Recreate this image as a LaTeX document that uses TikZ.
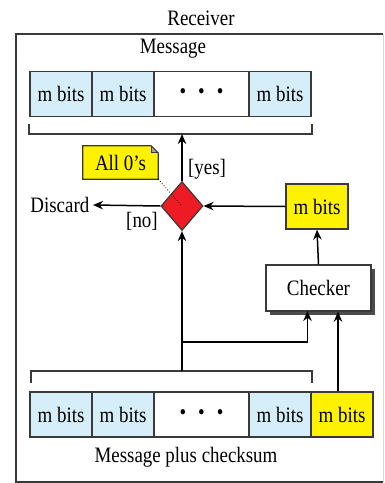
\documentclass[tikz,border=0pt]{standalone}
\usepackage{fontspec}
\setmainfont[FakeStretch=0.86]{Liberation Serif}
\usetikzlibrary{shapes.geometric,arrows.meta,shadows}
\definecolor{lblue}{HTML}{D5EEF9}
\definecolor{yel}{HTML}{FFF200}
\definecolor{dred}{HTML}{ED1C24}
\definecolor{bord}{HTML}{3A3A3A}
\begin{document}
\begin{tikzpicture}[x=1pt,y=-1pt,
  every node/.style={font=\fontsize{22}{25}\selectfont},
  cell/.style={draw=bord,line width=1.4pt,minimum height=45pt,inner sep=0pt},
  mcell/.style={cell,fill=lblue,minimum width=62pt},
  dcell/.style={cell,fill=white,minimum width=95pt},
  ycell/.style={cell,fill=yel,minimum width=62pt},
  arr/.style={line width=1.5pt,-{Stealth[length=10pt,width=8.5pt]}},
  brk/.style={line width=1.4pt,draw=bord},
  lbl/.style={inner sep=0pt}
]
\useasboundingbox (0,0) rectangle (385,483);
% frame
\draw[line width=1.4pt,draw=bord] (383,34) -- (16,34) -- (16,482) -- (383,482);
\draw[line width=0.8pt,draw=black!15] (383,34) -- (383,482);
\node[lbl] (recv) at (201,18) {Receiver};
\node[lbl] (msg) at (173,49) {Message};
% top row
\node[mcell] (t1) at (61,94) {m bits};
\node[mcell] (t2) at (123,94) {m bits};
\node[dcell] (t3) at (201.5,94) {\textbullet\hspace{12pt}\textbullet\hspace{12pt}\textbullet};
\node[mcell] (t4) at (280,94) {m bits};
% top bracket
\coordinate (tb) at (182,134);
\draw[brk] (29,124) -- (29,134) -- (312,134) -- (312,124);
% diamond
\node[diamond,draw=bord,fill=dred,line width=1.2pt,inner sep=0pt,minimum width=42pt,minimum height=49pt] (dia) at (182,206) {};
\draw[arr] (dia.north) -- (tb);
\node[lbl] (yes) at (207,169) {[yes]};
\node[lbl] (no) at (142,221) {[no]};
% discard
\node[inner sep=3.5pt,anchor=east] (disc) at (93,205) {Discard};
\draw[arr] (dia.west) -- (disc.east);
% note
\node[minimum width=75pt,minimum height=33pt,inner sep=0pt] (note) at (120.5,162.5) {};
\fill[yel] (note.north west) -- ([xshift=-7pt]note.north east) -- ([yshift=-7pt]note.north east) -- (note.south east) -- (note.south west) -- cycle;
\fill[black!35] ([xshift=-7pt]note.north east) -- ([xshift=-7pt,yshift=-7pt]note.north east) -- ([yshift=-7pt]note.north east) -- cycle;
\draw[line width=1.2pt,draw=bord,line join=miter] (note.north west) -- ([xshift=-7pt]note.north east) -- ([yshift=-7pt]note.north east) -- (note.south east) -- (note.south west) -- cycle;
\draw[line width=0.8pt,draw=bord] ([xshift=-7pt]note.north east) -- ([xshift=-7pt,yshift=-7pt]note.north east) -- ([yshift=-7pt]note.north east);
\node[lbl] (notetxt) at (note.center) {All 0’s};
\draw[dotted,line width=0.8pt] (note.south east) -- (dia.center);
% right m bits
\node[ycell,minimum height=45pt] (mb) at (317,206.5) {m bits};
\draw[arr] (mb.west) -- (dia.east);
% checker
\node[draw=bord,fill=white,line width=1.4pt,minimum width=105pt,minimum height=46pt,inner sep=0pt,
  drop shadow={shadow xshift=4pt,shadow yshift=-4pt,fill=black!70,opacity=1}] (chk) at (318.5,288) {Checker};
\draw[arr] (chk.north) -- (mb.south);
% bottom row
\node[mcell] (b1) at (61,414.5) {m bits};
\node[mcell] (b2) at (123,414.5) {m bits};
\node[dcell] (b3) at (201.5,414.5) {\textbullet\hspace{12pt}\textbullet\hspace{12pt}\textbullet};
\node[mcell] (b4) at (280,414.5) {m bits};
\node[ycell] (b5) at (342,414.5) {m bits};
\node[lbl] (mpc) at (186,457) {Message plus checksum};
% bottom bracket
\draw[brk] (31,383) -- (31,371) -- (312,371) -- (312,383);
\coordinate (bb) at (182,371);
\coordinate (jn) at (182,342);
\coordinate (cin) at (307.5,311);
\draw[arr] (bb) -- (dia.south);
\draw[arr] (jn) -| (cin);
\draw[arr] ([xshift=-4pt]b5.north) -- ([xshift=-4pt]b5.north |- chk.south);
\end{tikzpicture}
\end{document}
